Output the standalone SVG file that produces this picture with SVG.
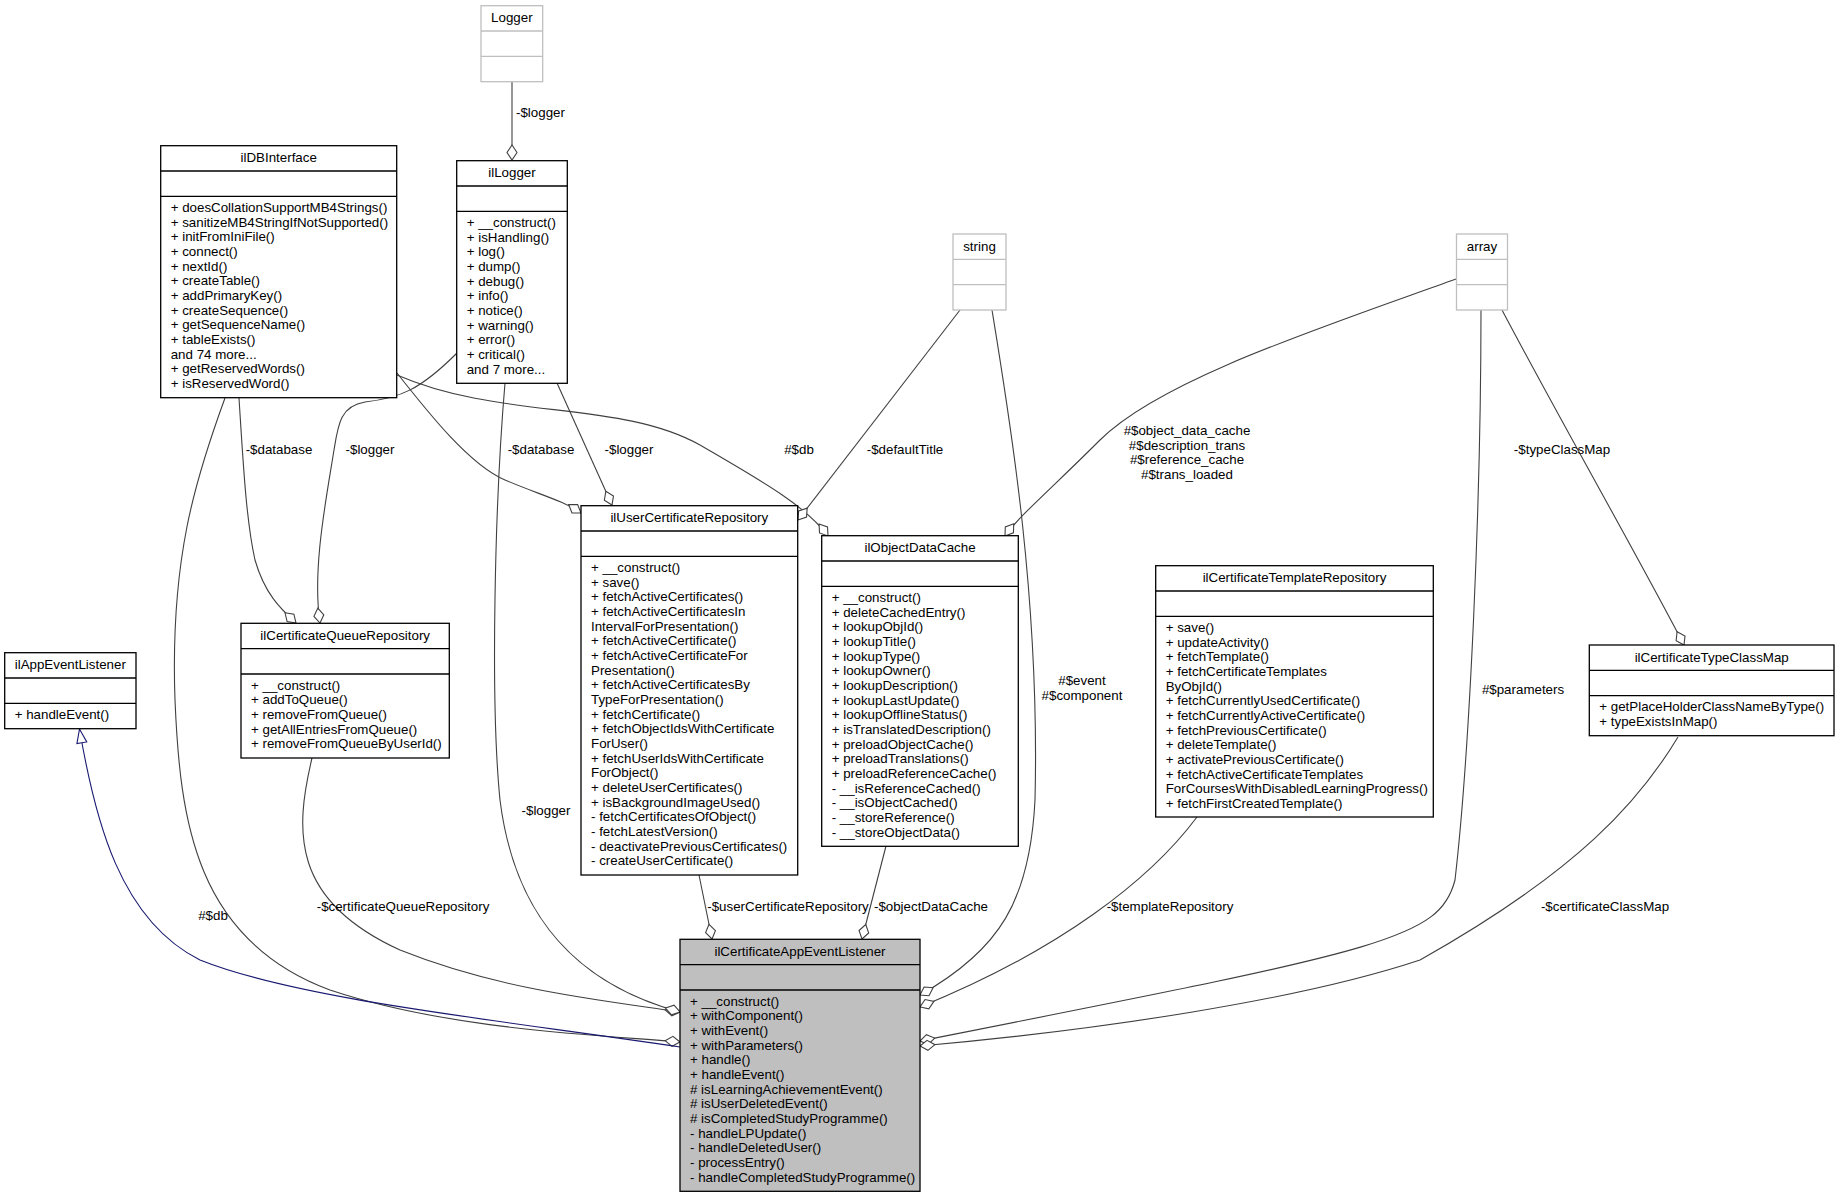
<svg xmlns="http://www.w3.org/2000/svg" width="1840" height="1197" viewBox="0 0 1840 1197">
<style>
text{font-family:"Liberation Sans",Arial,Helvetica,sans-serif;font-size:13.33px;fill:#000}
.t{text-anchor:middle}
.l{text-anchor:middle}
.box{fill:#fff;stroke:#000;stroke-width:1.3}
.gbox{fill:#fff;stroke:#bfbfbf;stroke-width:1.3}
.main{fill:#bfbfbf;stroke:#000;stroke-width:1.3}
.dv{stroke:#000;stroke-width:1.3}
.gdv{stroke:#bfbfbf;stroke-width:1.3}
.e{fill:none;stroke:#404040;stroke-width:1.1;marker-end:url(#dia)}
.inh{fill:none;stroke:#191970;stroke-width:1.1;marker-end:url(#tri)}
</style>
<defs>
<marker id="dia" markerUnits="userSpaceOnUse" markerWidth="18" markerHeight="14" refX="16" refY="7" orient="auto"><path d="M1,7 L8.5,2 L16,7 L8.5,12 Z" fill="#fff" stroke="#404040" stroke-width="1.1"/></marker>
<marker id="tri" markerUnits="userSpaceOnUse" markerWidth="16" markerHeight="14" refX="15" refY="7" orient="auto"><path d="M1,2 L15,7 L1,12 Z" fill="#fff" stroke="#191970" stroke-width="1.1"/></marker>
</defs>

<g id="connectors">
<path class="e" d="M512,82 L512,160"/>
<text x="516" y="117">-$logger</text>
<path class="e" d="M239,398 C243,460 246,520 255,560 C265,595 282,610 296,623"/>
<text class="l" x="279" y="454">-$database</text>
<path class="e" d="M457,353 C420,390 400,398 365,402 C340,406 338,425 334,450 C326,500 312,570 320,623"/>
<text class="l" x="370" y="454">-$logger</text>
<path class="e" d="M397,373 C430,415 470,465 505,480 C540,495 562,500 581,513"/>
<text class="l" x="541" y="454">-$database</text>
<path class="e" d="M557,383 L612,505"/>
<text class="l" x="629" y="454">-$logger</text>
<path class="e" d="M397,375 C500,420 620,400 700,445 C760,480 805,505 828,536"/>
<text class="l" x="799" y="454">#$db</text>
<path class="e" d="M960,310 L798,520"/>
<text class="l" x="905" y="454">-$defaultTitle</text>
<path class="e" d="M1456,279 C1320,328 1160,380 1100,440 C1050,490 1020,515 1005,536"/>
<text class="l" x="1187" y="435">#$object_data_cache</text>
<text class="l" x="1187" y="449.7">#$description_trans</text>
<text class="l" x="1187" y="464.3">#$reference_cache</text>
<text class="l" x="1187" y="479">#$trans_loaded</text>
<path class="e" d="M1502,310 C1560,420 1640,560 1684,645"/>
<text class="l" x="1562" y="454">-$typeClassMap</text>
<path class="e" d="M225,398 C195,480 170,560 175,700 C180,820 195,940 330,990 C450,1030 600,1035 680,1042"/>
<text class="l" x="213" y="920">#$db</text>
<path class="e" d="M312,758 C295,830 290,900 400,950 C500,990 600,1000 680,1012"/>
<text class="l" x="403" y="911">-$certificateQueueRepository</text>
<path class="e" d="M505,383 C495,500 490,700 500,800 C515,920 580,985 680,1012"/>
<text class="l" x="546" y="815">-$logger</text>
<path class="e" d="M699,875 L712,939"/>
<text class="l" x="788" y="911">-$userCertificateRepository</text>
<path class="e" d="M886,846 L862,939"/>
<text class="l" x="931" y="911">-$objectDataCache</text>
<path class="e" d="M992,310 C1010,420 1040,600 1035,800 C1030,900 1000,950 920,995"/>
<text class="l" x="1082" y="685">#$event</text>
<text class="l" x="1082" y="700">#$component</text>
<path class="e" d="M1197,817 C1150,880 1060,950 920,1007"/>
<text class="l" x="1170" y="911">-$templateRepository</text>
<path class="e" d="M1481,310 C1481,500 1470,750 1455,880 C1440,940 1380,950 920,1041"/>
<text class="l" x="1523" y="694">#$parameters</text>
<path class="e" d="M1678,737 C1640,800 1580,870 1420,960 C1300,1000 1100,1030 920,1046"/>
<text class="l" x="1605" y="911">-$certificateClassMap</text>
<path class="inh" d="M680,1047 C500,1020 300,1000 200,960 C120,920 95,820 79.5,729"/>
</g>

<g id="Logger">
<rect class="gbox" x="481" y="5.7" width="61.7" height="76"/>
<line class="gdv" x1="481" y1="31" x2="542.7" y2="31"/>
<line class="gdv" x1="481" y1="56.3" x2="542.7" y2="56.3"/>
<text class="t" x="511.85" y="22.2">Logger</text>
</g>

<g id="ilLogger">
<rect class="box" x="456.7" y="160.7" width="110.6" height="222.6"/>
<line class="dv" x1="456.7" y1="186" x2="567.3" y2="186"/>
<line class="dv" x1="456.7" y1="211.3" x2="567.3" y2="211.3"/>
<text class="t" x="512" y="177.2">ilLogger</text>
<text x="466.7" y="226.8">+ __construct()</text>
<text x="466.7" y="241.5">+ isHandling()</text>
<text x="466.7" y="256.1">+ log()</text>
<text x="466.7" y="270.8">+ dump()</text>
<text x="466.7" y="285.5">+ debug()</text>
<text x="466.7" y="300.2">+ info()</text>
<text x="466.7" y="314.8">+ notice()</text>
<text x="466.7" y="329.5">+ warning()</text>
<text x="466.7" y="344.2">+ error()</text>
<text x="466.7" y="358.8">+ critical()</text>
<text x="466.7" y="373.5">and 7 more...</text>
</g>

<g id="ilDBInterface">
<rect class="box" x="160.7" y="145.7" width="236" height="252"/>
<line class="dv" x1="160.7" y1="171" x2="396.7" y2="171"/>
<line class="dv" x1="160.7" y1="196.3" x2="396.7" y2="196.3"/>
<text class="t" x="278.7" y="162.2">ilDBInterface</text>
<text x="170.7" y="211.8">+ doesCollationSupportMB4Strings()</text>
<text x="170.7" y="226.5">+ sanitizeMB4StringIfNotSupported()</text>
<text x="170.7" y="241.1">+ initFromIniFile()</text>
<text x="170.7" y="255.8">+ connect()</text>
<text x="170.7" y="270.5">+ nextId()</text>
<text x="170.7" y="285.2">+ createTable()</text>
<text x="170.7" y="299.8">+ addPrimaryKey()</text>
<text x="170.7" y="314.5">+ createSequence()</text>
<text x="170.7" y="329.2">+ getSequenceName()</text>
<text x="170.7" y="343.8">+ tableExists()</text>
<text x="170.7" y="358.5">and 74 more...</text>
<text x="170.7" y="373.2">+ getReservedWords()</text>
<text x="170.7" y="387.8">+ isReservedWord()</text>
</g>

<g id="string">
<rect class="gbox" x="953" y="234" width="53" height="76"/>
<line class="gdv" x1="953" y1="259.3" x2="1006" y2="259.3"/>
<line class="gdv" x1="953" y1="284.7" x2="1006" y2="284.7"/>
<text class="t" x="979.5" y="250.5">string</text>
</g>

<g id="array">
<rect class="gbox" x="1456.5" y="234" width="51" height="76"/>
<line class="gdv" x1="1456.5" y1="259.3" x2="1507.5" y2="259.3"/>
<line class="gdv" x1="1456.5" y1="284.7" x2="1507.5" y2="284.7"/>
<text class="t" x="1482" y="250.5">array</text>
</g>

<g id="ilUserCertificateRepository">
<rect class="box" x="581" y="505.7" width="216.7" height="369.3"/>
<line class="dv" x1="581" y1="531" x2="797.7" y2="531"/>
<line class="dv" x1="581" y1="556.3" x2="797.7" y2="556.3"/>
<text class="t" x="689.3" y="522.2">ilUserCertificateRepository</text>
<text x="591" y="571.8">+ __construct()</text>
<text x="591" y="586.5">+ save()</text>
<text x="591" y="601.1">+ fetchActiveCertificates()</text>
<text x="591" y="615.8">+ fetchActiveCertificatesIn</text>
<text x="591" y="630.5">IntervalForPresentation()</text>
<text x="591" y="645.2">+ fetchActiveCertificate()</text>
<text x="591" y="659.8">+ fetchActiveCertificateFor</text>
<text x="591" y="674.5">Presentation()</text>
<text x="591" y="689.2">+ fetchActiveCertificatesBy</text>
<text x="591" y="703.8">TypeForPresentation()</text>
<text x="591" y="718.5">+ fetchCertificate()</text>
<text x="591" y="733.2">+ fetchObjectIdsWithCertificate</text>
<text x="591" y="747.8">ForUser()</text>
<text x="591" y="762.5">+ fetchUserIdsWithCertificate</text>
<text x="591" y="777.2">ForObject()</text>
<text x="591" y="791.8">+ deleteUserCertificates()</text>
<text x="591" y="806.5">+ isBackgroundImageUsed()</text>
<text x="591" y="821.2">- fetchCertificatesOfObject()</text>
<text x="591" y="835.8">- fetchLatestVersion()</text>
<text x="591" y="850.5">- deactivatePreviousCertificates()</text>
<text x="591" y="865.2">- createUserCertificate()</text>
</g>

<g id="ilObjectDataCache">
<rect class="box" x="821.7" y="535.7" width="196.6" height="310.6"/>
<line class="dv" x1="821.7" y1="561" x2="1018.3" y2="561"/>
<line class="dv" x1="821.7" y1="586.3" x2="1018.3" y2="586.3"/>
<text class="t" x="920" y="552.2">ilObjectDataCache</text>
<text x="831.7" y="601.8">+ __construct()</text>
<text x="831.7" y="616.5">+ deleteCachedEntry()</text>
<text x="831.7" y="631.1">+ lookupObjId()</text>
<text x="831.7" y="645.8">+ lookupTitle()</text>
<text x="831.7" y="660.5">+ lookupType()</text>
<text x="831.7" y="675.2">+ lookupOwner()</text>
<text x="831.7" y="689.8">+ lookupDescription()</text>
<text x="831.7" y="704.5">+ lookupLastUpdate()</text>
<text x="831.7" y="719.2">+ lookupOfflineStatus()</text>
<text x="831.7" y="733.8">+ isTranslatedDescription()</text>
<text x="831.7" y="748.5">+ preloadObjectCache()</text>
<text x="831.7" y="763.2">+ preloadTranslations()</text>
<text x="831.7" y="777.8">+ preloadReferenceCache()</text>
<text x="831.7" y="792.5">- __isReferenceCached()</text>
<text x="831.7" y="807.2">- __isObjectCached()</text>
<text x="831.7" y="821.8">- __storeReference()</text>
<text x="831.7" y="836.5">- __storeObjectData()</text>
</g>

<g id="ilCertificateTemplateRepository">
<rect class="box" x="1155.7" y="565.7" width="277.6" height="251.3"/>
<line class="dv" x1="1155.7" y1="591" x2="1433.3" y2="591"/>
<line class="dv" x1="1155.7" y1="616.3" x2="1433.3" y2="616.3"/>
<text class="t" x="1294.5" y="582.2">ilCertificateTemplateRepository</text>
<text x="1165.7" y="631.8">+ save()</text>
<text x="1165.7" y="646.5">+ updateActivity()</text>
<text x="1165.7" y="661.1">+ fetchTemplate()</text>
<text x="1165.7" y="675.8">+ fetchCertificateTemplates</text>
<text x="1165.7" y="690.5">ByObjId()</text>
<text x="1165.7" y="705.2">+ fetchCurrentlyUsedCertificate()</text>
<text x="1165.7" y="719.8">+ fetchCurrentlyActiveCertificate()</text>
<text x="1165.7" y="734.5">+ fetchPreviousCertificate()</text>
<text x="1165.7" y="749.2">+ deleteTemplate()</text>
<text x="1165.7" y="763.8">+ activatePreviousCertificate()</text>
<text x="1165.7" y="778.5">+ fetchActiveCertificateTemplates</text>
<text x="1165.7" y="793.2">ForCoursesWithDisabledLearningProgress()</text>
<text x="1165.7" y="807.8">+ fetchFirstCreatedTemplate()</text>
</g>

<g id="ilCertificateQueueRepository">
<rect class="box" x="241" y="623.3" width="208.3" height="134.7"/>
<line class="dv" x1="241" y1="648.6" x2="449.3" y2="648.6"/>
<line class="dv" x1="241" y1="674" x2="449.3" y2="674"/>
<text class="t" x="345.2" y="639.8">ilCertificateQueueRepository</text>
<text x="251" y="689.5">+ __construct()</text>
<text x="251" y="704.2">+ addToQueue()</text>
<text x="251" y="718.8">+ removeFromQueue()</text>
<text x="251" y="733.5">+ getAllEntriesFromQueue()</text>
<text x="251" y="748.2">+ removeFromQueueByUserId()</text>
</g>

<g id="ilCertificateTypeClassMap">
<rect class="box" x="1589.3" y="645" width="244.7" height="90.7"/>
<line class="dv" x1="1589.3" y1="670.3" x2="1834" y2="670.3"/>
<line class="dv" x1="1589.3" y1="695.7" x2="1834" y2="695.7"/>
<text class="t" x="1711.7" y="661.5">ilCertificateTypeClassMap</text>
<text x="1599.3" y="711.2">+ getPlaceHolderClassNameByType()</text>
<text x="1599.3" y="725.8">+ typeExistsInMap()</text>
</g>

<g id="ilAppEventListener">
<rect class="box" x="4.7" y="652.7" width="131.3" height="76"/>
<line class="dv" x1="4.7" y1="678" x2="136" y2="678"/>
<line class="dv" x1="4.7" y1="703.3" x2="136" y2="703.3"/>
<text class="t" x="70.3" y="669.2">ilAppEventListener</text>
<text x="14.7" y="718.8">+ handleEvent()</text>
</g>

<g id="ilCertificateAppEventListener">
<rect class="main" x="680" y="939.3" width="240" height="252"/>
<line class="dv" x1="680" y1="964.6" x2="920" y2="964.6"/>
<line class="dv" x1="680" y1="990" x2="920" y2="990"/>
<text class="t" x="800" y="955.8">ilCertificateAppEventListener</text>
<text x="690" y="1005.5">+ __construct()</text>
<text x="690" y="1020.2">+ withComponent()</text>
<text x="690" y="1034.8">+ withEvent()</text>
<text x="690" y="1049.5">+ withParameters()</text>
<text x="690" y="1064.2">+ handle()</text>
<text x="690" y="1078.8">+ handleEvent()</text>
<text x="690" y="1093.5"># isLearningAchievementEvent()</text>
<text x="690" y="1108.2"># isUserDeletedEvent()</text>
<text x="690" y="1122.8"># isCompletedStudyProgramme()</text>
<text x="690" y="1137.5">- handleLPUpdate()</text>
<text x="690" y="1152.2">- handleDeletedUser()</text>
<text x="690" y="1166.8">- processEntry()</text>
<text x="690" y="1181.5">- handleCompletedStudyProgramme()</text>
</g>
</svg>
